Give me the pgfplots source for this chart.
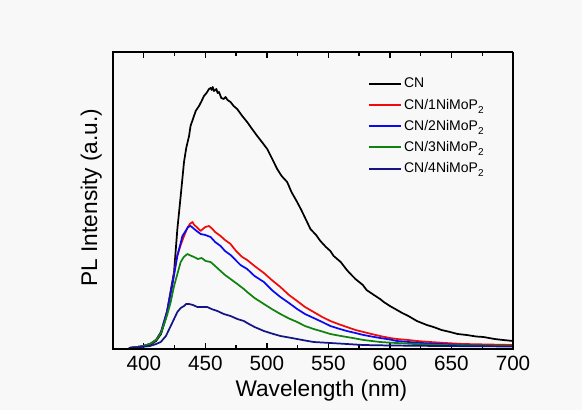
\documentclass[border=0pt]{standalone}
\usepackage{fontspec}
\setmainfont{Liberation Sans}
\usepackage{pgfplots}
\pgfplotsset{compat=1.18}
\definecolor{bgcol}{RGB}{248,248,248}
\definecolor{cred}{RGB}{240,10,10}
\definecolor{cblue}{RGB}{10,10,240}
\definecolor{cgreen}{RGB}{15,130,15}
\definecolor{cnavy}{RGB}{20,20,135}
\newcommand{\sub}[1]{\raisebox{-0.55ex}{\fontsize{7.5}{8}\selectfont #1}}
\pgfplotsset{frame/.style={
  at={(0pt,0pt)}, anchor=south west,
  scale only axis,
  width=300pt, height=222.75pt,
  xmin=375, xmax=700, ymin=-1, ymax=296,
  xtick={400,450,...,700},
  minor xtick={375,425,...,675},
  ytick=\empty,
  tick align=inside,
  major tick length=4.5pt,
  minor tick length=2.8pt,
  axis line style={-, line width=1.1pt, black},
  tick style={line width=1pt, black},
  /pgf/number format/assume math mode=true,
  /pgf/number format/1000 sep={},
}}
\begin{document}
\begin{tikzpicture}
\fill[bgcol] (-84.75pt,-45.75pt) rectangle (351.75pt,261.75pt);
\begin{axis}[
  frame,
  axis x line*=bottom, axis y line*=left,
  tick label style={font=\fontsize{15.5}{18}\selectfont},
  xticklabel style={yshift=-1.5pt},
  every axis x label/.style={at={(axis description cs:0.521,-0.1616)}, anchor=base},
  every axis y label/.style={at={(axis description cs:-0.04,0.51)}, rotate=90, anchor=base},
  label style={font=\fontsize{17}{20}\selectfont},
  xlabel={Wavelength (nm)},
  ylabel={PL Intensity (a.u.)},
  legend style={at={(axis description cs:0.6375,0.92)}, anchor=north west, draw=none, fill=none,
     font=\fontsize{10.5}{12}\selectfont, row sep=3.8pt, inner sep=0pt,
     nodes={inner sep=1.5pt}},
  legend cell align=left,
  legend image code/.code={\draw[#1, line width=1.4pt] (0pt,0pt) -- (24pt,0pt);},
  every axis plot/.append style={line width=1.3pt, line join=round},
]
\addplot[black] coordinates {
(388,0) (397.6,1.5) (405,3) (410,7) (414,14) (418,30) (422,58) (424.6,76) (427.3,119) (430,152)
(432.7,186) (434.5,200) (436.8,212) (438,222) (440.8,232) (442.2,237) (444.9,242) (447,247)
(448.9,252) (451,255) (453,259) (454.3,260) (455.2,258) (456,261) (457.1,257) (459,259) (460,255)
(461.1,256) (463,250) (465,249) (466.5,251) (468,248) (470.5,246) (473,242) (475.9,239) (480,232)
(484,226) (488,219) (492.2,212) (496,206) (500.3,199) (504,190) (508.4,179) (512,172) (516.5,166)
(520,156) (524.6,146) (528,138) (532.7,126) (535.4,119) (540,113) (543.5,107) (548,101) (551.6,97)
(554.3,92) (560,86) (565,78) (568,74) (572,69) (578,63) (581,58) (587,53) (592,49) (595,46)
(600,42) (605.7,38) (610,35) (615,32) (621.9,27) (630,23) (635.4,21) (642,18) (648.9,16) (655,14)
(662.5,13) (670,11.5) (676,11) (685,9) (692,8) (700,7)
};
\addlegendentry{CN}
\addplot[cred] coordinates {
(388,0) (398,1.5) (405,4) (410,8) (414,16) (419,37) (423,62) (427,92) (430,103) (432.7,112)
(435.4,120) (437.5,124) (439.5,126) (441,123) (443,121) (446.2,117) (448,119) (450,121) (453,122)
(455,120) (458,116) (462.4,112) (466,108) (470.5,104) (475,97) (480,91) (484,88) (490,82)
(497.6,75) (504,68) (511,61) (518,53) (524.6,47) (531,41) (538,36) (545,31) (551.6,27) (558,24)
(565,21) (572,18) (578.6,16) (585,14) (592,12) (600,10) (605.7,9) (615,8) (622,7) (632.7,6)
(645,5) (660,4) (680,3.5) (700,3)
};
\addlegendentry{CN/1NiMoP\sub{2}}
\addplot[cblue] coordinates {
(388,0) (398,1.5) (405,4) (410,8) (414,16) (419,37) (423,62) (427.3,92) (431.4,112) (434,117)
(436,121) (438.1,122) (440,120) (443,117) (446.2,114) (450,113) (454.3,111) (458,106) (462.4,102)
(466,97) (470.5,93) (478.6,83) (484,79) (490,72) (497.6,66) (504,58) (511,51) (518,45) (524.6,39)
(531,34) (538,30) (545,26) (551.6,22) (558,19.5) (565,17) (572,15) (578.6,13) (585,11.5) (592,10)
(600,8.5) (605.7,7) (620,5.5) (632,4.5) (650,3.5) (670,2.5) (700,2)
};
\addlegendentry{CN/2NiMoP\sub{2}}
\addplot[cgreen] coordinates {
(388,0) (398,1.5) (405,4) (410,8) (414,15) (419,33) (421.9,46) (424.6,62) (427.3,74) (430,86)
(432.5,91) (435.4,94) (437,93) (440.8,91) (444,89) (447,90) (450.3,87) (454.3,86) (458,82)
(462.4,77) (466,73) (470.5,69) (476,64) (481.3,59) (484,56) (490,50) (497.6,44) (504,39) (511,34)
(518,29.5) (524.6,26) (531,22) (538,19) (545,16.5) (551.6,14) (558,12.5) (565,11) (572,9.5)
(578.6,8) (592,6) (605,5) (620,4) (640,3) (670,2.5) (700,2)
};
\addlegendentry{CN/3NiMoP\sub{2}}
\addplot[cnavy] coordinates {
(388,0) (398,1) (405,2) (410,4) (413.8,6) (418,12) (421.9,22) (424.6,29) (427.3,36) (430,40)
(432.7,42) (434.5,44) (436.8,44) (440,43) (443.5,41) (447,41) (451.6,41) (455,39) (459.8,37)
(465,34) (470.5,32) (476,29) (481.3,27) (484,25) (490,21) (497.6,17) (504,14.5) (511,12)
(518,10.5) (524.6,9) (531,7.5) (538,6) (545,5.5) (551.6,5) (565,4) (578,3) (600,2.5) (640,2)
(700,1.5)
};
\addlegendentry{CN/4NiMoP\sub{2}}
\end{axis}
\begin{axis}[
  frame,
  axis x line*=top, axis y line*=right,
  xticklabels={},
]
\end{axis}
\draw[line width=1.2pt, black, line cap=rect] (0pt,0pt) -- (300pt,0pt);
\draw[line width=1.2pt, black, line cap=rect] (0pt,0pt) -- (0pt,222.75pt);
\draw[line width=1.2pt, black, line cap=rect] (0pt,222.35pt) -- (300pt,222.35pt);
\draw[line width=1.2pt, black, line cap=rect] (299.6pt,0pt) -- (299.6pt,222.75pt);
\path[use as bounding box] (-84.75pt,-45.75pt) rectangle (351.75pt,261.75pt);
\end{tikzpicture}
\end{document}
